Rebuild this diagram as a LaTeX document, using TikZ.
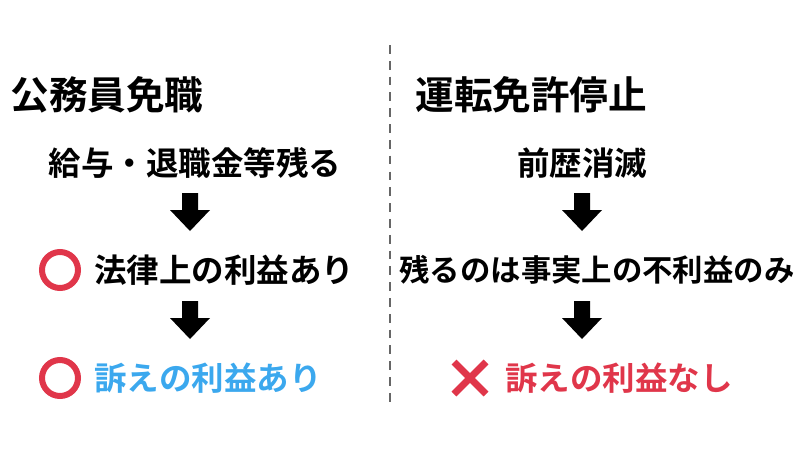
\documentclass[tikz,border=0pt]{standalone}
\usepackage{fontspec}
\setmainfont{Noto Sans CJK JP}[BoldFont={Noto Sans CJK JP Bold}]
\usetikzlibrary{calc}
\definecolor{myred}{HTML}{E0364A}
\definecolor{myblue}{HTML}{3BA8EE}
\begin{document}
\begin{tikzpicture}[x=0.02cm,y=-0.02cm,
  title/.style={font=\bfseries\fontsize{22}{24}\selectfont,anchor=west,inner sep=0},
  body/.style={font=\bfseries\fontsize{18.5}{22}\selectfont,inner sep=0},
  ring/.style={circle,draw=myred,line width=6*0.02cm,minimum size=36*0.02cm,inner sep=0},
  barrow/.pic={\fill[black] (-8,-19) -- (8,-19) -- (8,-2) -- (20,-2) -- (0,19) -- (-20,-2) -- (-8,-2) -- cycle;}]
\useasboundingbox (0,0) rectangle (800,450);
\draw[gray!80!black,line width=1.6pt,dash pattern=on 5pt off 4pt] (390,45) -- (390,405);
% left
\node[title] (t1) at (10,95) {公務員免職};
\node[body] (l1) at (195,163) {給与・退職金等残る};
\pic at (190,212) {barrow};
\node[ring] (c1) at (60,270) {};
\node[body,anchor=west] (l2) at (94,270) {法律上の利益あり};
\pic at (190,320) {barrow};
\node[ring] (c2) at (60,378) {};
\node[body,anchor=west,text=myblue] (l3) at (94,378) {訴えの利益あり};
% right
\node[title] (t2) at (415,95) {運転免許停止};
\node[body] (r1) at (582,163) {前歴消滅};
\pic at (582,212) {barrow};
\node[body,font=\bfseries\fontsize{17.3}{20}\selectfont] (r2) at (597,270) {残るのは事実上の不利益のみ};
\pic at (582,320) {barrow};
\coordinate (x) at (470,378);
\draw[myred,line width=7*0.02cm] ($(x)+(-16,-16)$) -- ($(x)+(16,16)$) ($(x)+(16,-16)$) -- ($(x)+(-16,16)$);
\node[body,anchor=west,text=myred] (r3) at (505,378) {訴えの利益なし};
\end{tikzpicture}
\end{document}
